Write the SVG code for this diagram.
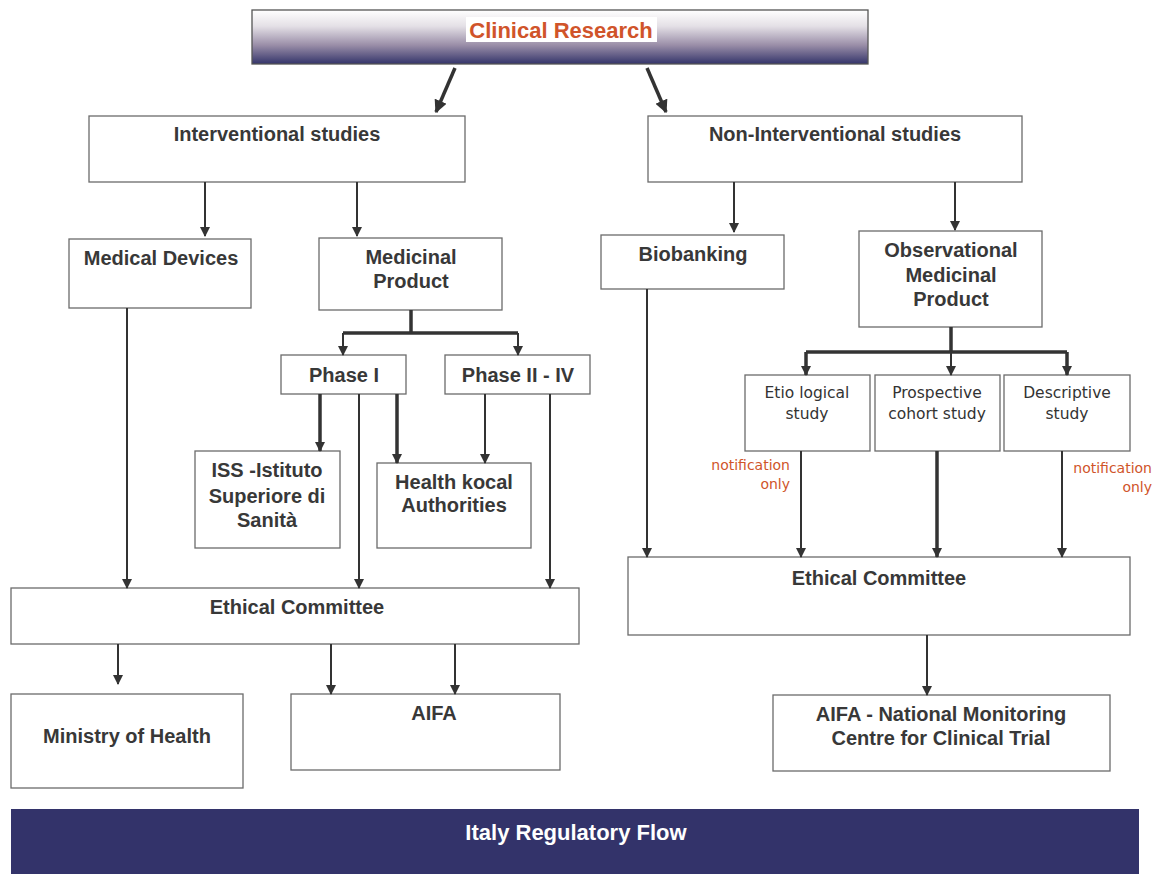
<svg xmlns="http://www.w3.org/2000/svg" width="1161" height="874" viewBox="0 0 1161 874">
<defs>
<linearGradient id="tg" x1="0" y1="0" x2="0" y2="1">
<stop offset="0" stop-color="#ffffff"/>
<stop offset="0.3" stop-color="#e4e0e6"/>
<stop offset="0.65" stop-color="#9a8ea8"/>
<stop offset="1" stop-color="#34346a"/>
</linearGradient>
<marker id="ah" viewBox="0 0 10 10" refX="9" refY="5" markerWidth="10" markerHeight="10" markerUnits="userSpaceOnUse" orient="auto">
<path d="M0,0 L10,5 L0,10 z" fill="#333"/>
</marker>
<marker id="ahb" viewBox="0 0 10 10" refX="9" refY="5" markerWidth="13" markerHeight="13" markerUnits="userSpaceOnUse" orient="auto">
<path d="M0,0 L10,5 L0,10 z" fill="#333"/>
</marker>
</defs>
<style>
.box{fill:#fff;stroke:#6b6b6b;stroke-width:1.3}
.t{font-family:"Liberation Sans",Arial,sans-serif;font-size:20px;font-weight:bold;fill:#383838;text-anchor:middle}
.s{font-family:"DejaVu Sans",sans-serif;font-size:15.5px;fill:#333;text-anchor:middle}
.n{font-family:"DejaVu Sans",sans-serif;font-size:14px;fill:#d0542a;text-anchor:end}
.c{stroke:#333;stroke-width:2;fill:none}
.cb{stroke:#333;stroke-width:3.5;fill:none}
</style>
<rect width="1161" height="874" fill="#fff"/>

<g id="title">
<rect x="252" y="10" width="616" height="54" fill="url(#tg)" stroke="#555" stroke-width="1.3"/>
<rect x="466" y="17" width="191" height="25" fill="#fff"/>
<text x="561" y="38" style="font-family:'Liberation Sans',Arial,sans-serif;font-size:22px;font-weight:bold;fill:#d0542a;text-anchor:middle">Clinical Research</text>
</g>

<g id="interventional"><rect class="box" x="89" y="116" width="376" height="66"/><text class="t" x="277" y="141">Interventional studies</text></g>
<g id="noninterventional"><rect class="box" x="648" y="116" width="374" height="66"/><text class="t" x="835" y="141">Non-Interventional studies</text></g>
<g id="medicaldevices"><rect class="box" x="69" y="239" width="182" height="69"/><text class="t" x="161" y="265">Medical Devices</text></g>
<g id="medicinalproduct"><rect class="box" x="319" y="238" width="183" height="72"/><text class="t" x="411" y="264">Medicinal</text><text class="t" x="411" y="288">Product</text></g>
<g id="phase1"><rect class="box" x="281" y="355" width="125" height="39"/><text class="t" x="344" y="382">Phase I</text></g>
<g id="phase2"><rect class="box" x="445" y="355" width="145" height="39"/><text class="t" x="518" y="382">Phase II - IV</text></g>
<g id="iss"><rect class="box" x="195" y="451" width="145" height="97"/><text class="t" x="267" y="477">ISS -Istituto</text><text class="t" x="267" y="503">Superiore di</text><text class="t" x="267" y="527">Sanità</text></g>
<g id="health"><rect class="box" x="377" y="463" width="154" height="85"/><text class="t" x="454" y="489">Health kocal</text><text class="t" x="454" y="512">Authorities</text></g>
<g id="ethical1"><rect class="box" x="11" y="588" width="568" height="56"/><text class="t" x="297" y="614">Ethical Committee</text></g>
<g id="ministry"><rect class="box" x="11" y="694" width="232" height="94"/><text class="t" x="127" y="743">Ministry of Health</text></g>
<g id="aifa"><rect class="box" x="291" y="694" width="269" height="76"/><text class="t" x="434" y="720">AIFA</text></g>

<g id="biobanking"><rect class="box" x="601" y="235" width="183" height="54"/><text class="t" x="693" y="261">Biobanking</text></g>
<g id="observational"><rect class="box" x="859" y="231" width="183" height="96"/><text class="t" x="951" y="257">Observational</text><text class="t" x="951" y="282">Medicinal</text><text class="t" x="951" y="306">Product</text></g>
<g id="etiological"><rect class="box" x="745" y="375" width="125" height="76"/><text class="s" x="807" y="398">Etio logical</text><text class="s" x="807" y="419">study</text></g>
<g id="prospective"><rect class="box" x="875" y="375" width="125" height="76"/><text class="s" x="937" y="398">Prospective</text><text class="s" x="937" y="419">cohort study</text></g>
<g id="descriptive"><rect class="box" x="1004" y="375" width="126" height="76"/><text class="s" x="1067" y="398">Descriptive</text><text class="s" x="1067" y="419">study</text></g>
<g id="ethical2"><rect class="box" x="628" y="557" width="502" height="78"/><text class="t" x="879" y="585">Ethical Committee</text></g>
<g id="aifanational"><rect class="box" x="773" y="695" width="337" height="76"/><text class="t" x="941" y="721">AIFA - National Monitoring</text><text class="t" x="941" y="745">Centre for Clinical Trial</text></g>

<g id="labels">
<text class="n" x="790" y="470">notification</text><text class="n" x="790" y="489">only</text>
<text class="n" x="1152" y="473">notification</text><text class="n" x="1152" y="492">only</text>
</g>

<g id="connectors">
<line class="cb" x1="455" y1="68" x2="436" y2="112" marker-end="url(#ahb)"/>
<line class="cb" x1="647" y1="68" x2="666" y2="112" marker-end="url(#ahb)"/>
<line class="c" x1="205" y1="182" x2="205" y2="236" marker-end="url(#ah)"/>
<line class="c" x1="357" y1="182" x2="357" y2="236" marker-end="url(#ah)"/>
<polyline class="cb" points="411,310 411,333"/>
<polyline class="cb" points="343,333 518,333"/>
<line class="c" x1="343" y1="333" x2="343" y2="355" marker-end="url(#ah)"/>
<line class="c" x1="518" y1="333" x2="518" y2="355" marker-end="url(#ah)"/>
<line class="cb" x1="320" y1="394" x2="320" y2="451" marker-end="url(#ah)"/>
<line class="c" x1="359" y1="394" x2="359" y2="588" marker-end="url(#ah)"/>
<line class="cb" x1="397" y1="394" x2="397" y2="463" marker-end="url(#ah)"/>
<line class="c" x1="485" y1="394" x2="485" y2="463" marker-end="url(#ah)"/>
<line class="c" x1="550" y1="394" x2="550" y2="588" marker-end="url(#ah)"/>
<line class="c" x1="127" y1="308" x2="127" y2="588" marker-end="url(#ah)"/>
<line class="c" x1="118" y1="644" x2="118" y2="684" marker-end="url(#ah)"/>
<line class="c" x1="331" y1="644" x2="331" y2="694" marker-end="url(#ah)"/>
<line class="c" x1="455" y1="644" x2="455" y2="694" marker-end="url(#ah)"/>

<line class="c" x1="734" y1="182" x2="734" y2="232" marker-end="url(#ah)"/>
<line class="c" x1="955" y1="182" x2="955" y2="230" marker-end="url(#ah)"/>
<polyline class="cb" points="951,327 951,352"/>
<polyline class="cb" points="806,352 1067,352"/>
<line class="cb" x1="806" y1="352" x2="806" y2="375" marker-end="url(#ah)"/>
<line class="c" x1="951" y1="352" x2="951" y2="375" marker-end="url(#ah)"/>
<line class="cb" x1="1067" y1="352" x2="1067" y2="375" marker-end="url(#ah)"/>
<line class="c" x1="647" y1="289" x2="647" y2="557" marker-end="url(#ah)"/>
<line class="c" x1="801" y1="451" x2="801" y2="557" marker-end="url(#ah)"/>
<line class="cb" x1="937" y1="451" x2="937" y2="557" marker-end="url(#ah)"/>
<line class="c" x1="1062" y1="451" x2="1062" y2="557" marker-end="url(#ah)"/>
<line class="c" x1="927" y1="635" x2="927" y2="695" marker-end="url(#ah)"/>
</g>

<g id="banner">
<rect x="11" y="809" width="1128" height="65" fill="#33336a"/>
<text x="576" y="840" style="font-family:'Liberation Sans',Arial,sans-serif;font-size:22px;font-weight:bold;fill:#fff;text-anchor:middle">Italy Regulatory Flow</text>
</g>
</svg>
